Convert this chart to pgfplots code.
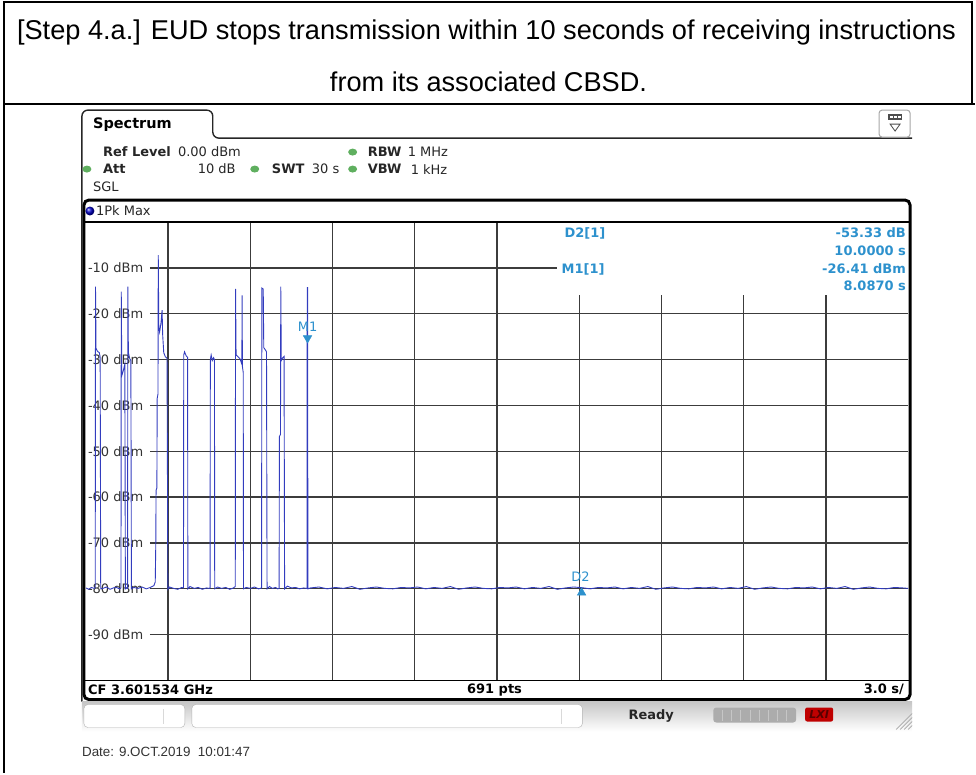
\documentclass[border=0pt]{standalone}
\usepackage{pgfplots}
\pgfplotsset{compat=1.18}
\usepackage{fontspec}
\setmainfont{Liberation Sans}
\newfontfamily\rs{DejaVu Sans}

\definecolor{trace}{RGB}{50,60,190}
\definecolor{mk}{RGB}{45,145,205}
\definecolor{gridc}{RGB}{60,60,60}
\definecolor{led}{RGB}{95,175,95}
\definecolor{lab}{RGB}{50,50,50}

\tikzset{
  rsn/.style={font=\rs\fontsize{13bp}{15bp}\selectfont, inner sep=0pt, text=black!85},
  rsb/.style={font=\rs\bfseries\fontsize{13bp}{15bp}\selectfont, inner sep=0pt, text=black!85},
  mkt/.style={font=\rs\bfseries\fontsize{13bp}{15bp}\selectfont, inner sep=0pt, text=mk},
}

\begin{document}
\begin{tikzpicture}
\begin{scope}[x=1bp,y=1bp]
\path (0,0) rectangle (976,774);
% table round the screenshot
\draw[line width=2.5bp] (3,772) -- (974,772);
\draw[line width=2.5bp] (4,773) -- (4,0);
\draw[line width=2.5bp] (973,773) -- (973,670);
\draw[line width=2bp] (4,670) -- (976,670);
\node[anchor=base, inner sep=0pt, font=\fontsize{27.2bp}{30bp}\selectfont] at (487,735)
  {[Step 4.a.] EUD stops transmission within 10 seconds of receiving instructions};
\node[anchor=base, inner sep=0pt, font=\fontsize{27.2bp}{30bp}\selectfont] at (489,683)
  {from its associated CBSD.};
\end{scope}

% the trace
\begin{axis}[
  at={(86bp,93bp)}, anchor=south west,
  scale only axis, width=823bp, height=459bp,
  xmin=0, xmax=30, ymin=-100, ymax=0,
  hide axis,
]
\pgfplotsinvokeforeach{3,6,9,12,15}{
  \draw[gridc, line width=1.3bp] (axis cs:#1,-100) -- (axis cs:#1,0);
}
\pgfplotsinvokeforeach{18,21,24,27}{
  \draw[gridc, line width=1.3bp] (axis cs:#1,-100) -- (axis cs:#1,-15.9);
}
\pgfplotsinvokeforeach{20,30,40,50,60,70,80,90}{
  \draw[gridc, line width=1.3bp] (axis cs:2.33,-#1) -- (axis cs:30,-#1);
  \node[rsn, text=lab, anchor=west] at (axis cs:0.07,-#1) {-#1 dBm};
}
\draw[gridc, line width=1.3bp] (axis cs:2.33,-10) -- (axis cs:17.2,-10);
\node[rsn, text=lab, anchor=west] at (axis cs:0.07,-10) {-10 dBm};

\addplot[trace, line width=0.9bp, mark=none] coordinates {
(0,-79.8) (0.1,-80.1) (0.2,-79.7) (0.3,-79.9)
(0.34,-79.6) (0.35,-14.1) (0.37,-27.6) (0.42,-28.2) (0.49,-28.5) (0.52,-29.5) (0.54,-80.0)
(0.62,-79.9) (0.75,-79.6) (0.88,-80.1) (1.0,-79.8) (1.12,-79.7) (1.22,-80.0)
(1.28,-79.8) (1.29,-15.2) (1.31,-33.5) (1.36,-32.5) (1.42,-31) (1.44,-80)
(1.48,-79.8) (1.52,-79.9) (1.53,-14.1) (1.55,-28.5) (1.6,-29.8) (1.64,-30.2) (1.66,-80.0)
(1.75,-79.7) (1.9,-79.9) (2.05,-79.6) (2.2,-80.0) (2.35,-79.7) (2.48,-79.3)
(2.53,-78.5) (2.55,-70) (2.56,-58.5) (2.59,-58) (2.60,-38.5) (2.63,-37.5) (2.64,-7.2)
(2.66,-22.8) (2.69,-24) (2.74,-22) (2.78,-19.2) (2.80,-24.5) (2.84,-28.5) (2.90,-29.4) (2.96,-29.7) (2.99,-80.1)
(3.05,-79.6) (3.2,-79.9) (3.35,-80.1) (3.5,-79.7)
(3.56,-79.8) (3.57,-29.0) (3.60,-28.3) (3.66,-29.2) (3.71,-29.5) (3.72,-80.0)
(3.8,-79.5) (3.95,-79.9) (4.1,-79.7) (4.25,-80.1) (4.4,-79.8) (4.5,-79.9)
(4.53,-79.8) (4.54,-30.0) (4.57,-29.0) (4.61,-30.2) (4.66,-29.6) (4.69,-30) (4.70,-80.0)
(4.8,-79.6) (4.95,-79.9) (5.1,-79.7) (5.25,-80.1) (5.38,-79.8)
(5.45,-79.5) (5.46,-14.6) (5.48,-29.0) (5.55,-29.4) (5.62,-29.8) (5.66,-30.5) (5.69,-31)
(5.70,-16) (5.71,-31.5) (5.74,-32.8) (5.75,-80.0)
(5.85,-79.7) (6.0,-79.9) (6.15,-79.6) (6.3,-80.0)
(6.41,-79.8) (6.42,-14.4) (6.47,-14.6) (6.49,-27.4) (6.55,-27.9) (6.59,-28.3) (6.61,-80.0)
(6.7,-79.5) (6.8,-79.9) (6.92,-79.7) (7.0,-80.0)
(7.05,-79.9) (7.06,-46.8) (7.10,-46.3) (7.11,-14.1) (7.13,-30.2) (7.18,-29.6) (7.23,-29.3) (7.25,-80.0)
(7.35,-79.4) (7.5,-79.8) (7.65,-79.7) (7.8,-80.0) (7.95,-79.8) (8.05,-79.9)
(8.07,-79.9) (8.075,-14.3) (8.09,-14.3) (8.10,-80.0)
(8.2,-79.8) (8.5,-79.6) (8.8,-80.0) (9.1,-79.7) (9.4,-79.9) (9.7,-79.5) (10.0,-80.1) (10.3,-79.8)
(10.6,-79.6) (10.9,-79.9) (11.2,-80.0) (11.5,-79.7) (11.8,-79.8) (12.1,-79.6) (12.4,-80.0) (12.7,-79.7)
(13.0,-79.9) (13.3,-79.5) (13.6,-80.1) (13.9,-79.8) (14.2,-79.6) (14.5,-79.9) (14.8,-80.0) (15.1,-79.7)
(15.4,-79.8) (15.7,-79.6) (16.0,-80.0) (16.3,-79.7) (16.6,-79.9) (16.9,-79.5) (17.2,-80.1) (17.5,-79.8)
(17.8,-79.6) (18.087,-79.74) (18.4,-80.0) (18.7,-79.7) (19.0,-79.8) (19.3,-79.6) (19.6,-80.0) (19.9,-79.7)
(20.2,-79.9) (20.5,-79.5) (20.8,-80.1) (21.1,-79.8) (21.4,-79.6) (21.7,-79.9) (22.0,-80.0) (22.3,-79.7)
(22.6,-79.8) (22.9,-79.6) (23.2,-80.0) (23.5,-79.7) (23.8,-79.9) (24.1,-79.5) (24.4,-80.1) (24.7,-79.8)
(25.0,-79.6) (25.3,-79.9) (25.6,-80.0) (25.9,-79.7) (26.2,-79.8) (26.5,-79.6) (26.8,-80.0) (27.1,-79.7)
(27.4,-79.9) (27.7,-79.5) (28.0,-80.1) (28.3,-79.8) (28.6,-79.6) (28.9,-79.9) (29.2,-80.0) (29.5,-79.7)
(29.8,-79.8) (30.0,-79.9)
};

% markers M1 and D2
\addplot[only marks, mark=triangle*, mark size=5,
  mark options={yshift=5bp, rotate=180, fill=mk, draw=mk}] coordinates {(8.087,-26.41)};
\addplot[only marks, mark=triangle*, mark size=5,
  mark options={yshift=-5bp, fill=mk, draw=mk}] coordinates {(18.087,-79.74)};
\node[rsn, text=mk] at (axis cs:8.087,-22.9) {M1};
\node[rsn, text=mk] at (axis cs:18.05,-77.4) {D2};
\end{axis}

\begin{scope}[x=1bp,y=1bp]
% screen frame
\draw[line width=3bp, rounded corners=5bp] (84,74) rectangle (911,574);
\draw[line width=1.5bp] (84,552) -- (911,552);
\draw[line width=1.5bp] (84,93) -- (911,93);
\draw[line width=1.4bp, black!85, rounded corners=6bp] (82,72) -- (82,664) -- (213,664) -- (213,636) -- (913,636);

% top-right button
\draw[gray!70, rounded corners=3bp, line width=1bp, fill=white] (880,637) rectangle (911,664);
\fill[black!70] (889,654) rectangle (903,660);
\fill[white] (891,656) rectangle (894,658);
\fill[white] (895,656) rectangle (898,658);
\fill[white] (899,656) rectangle (902,658);
\draw[black!70, line width=0.8bp] (891,650) -- (901,650) -- (896,643) -- cycle;

% setting rows
\node[font=\rs\bfseries\fontsize{14.5bp}{16bp}\selectfont, inner sep=0pt, anchor=west] at (93,649) {Spectrum};
\fill[led] (353,622) ellipse (4.5bp and 3.5bp);
\fill[led] (87,605) ellipse (4.5bp and 3.5bp);
\fill[led] (255,605) ellipse (4.5bp and 3.5bp);
\fill[led] (353,605) ellipse (4.5bp and 3.5bp);
\node[rsb, anchor=west] at (103,622) {Ref Level};
\node[rsn, anchor=west] at (178,622) {0.00 dBm};
\node[rsb, anchor=west] at (368,622) {RBW};
\node[rsn, anchor=west] at (408,622) {1 MHz};
\node[rsb, anchor=west] at (103,605) {Att};
\node[rsn, anchor=east] at (236,605) {10 dB};
\node[rsb, anchor=west] at (272,605) {SWT};
\node[rsn, anchor=west] at (312,605) {30 s};
\node[rsb, anchor=west] at (368,605) {VBW};
\node[rsn, anchor=west] at (411,605) {1 kHz};
\node[rsn, anchor=west] at (93,587) {SGL};
\shade[ball color=blue!80!black] (90,563) circle (4.5bp);
\node[rsn, anchor=west] at (96,563) {1Pk Max};

% marker table
\node[mkt, anchor=west] at (565,541) {D2[1]};
\node[mkt, anchor=west] at (562,505) {M1[1]};
\node[mkt, anchor=east] at (907,541) {-53.33 dB};
\node[mkt, anchor=east] at (907,523) {10.0000 s};
\node[mkt, anchor=east] at (907,505) {-26.41 dBm};
\node[mkt, anchor=east] at (907,488) {8.0870 s};

% status strip
\node[rsb, text=black, anchor=west] at (88,84) {CF 3.601534 GHz};
\node[rsb, text=black] at (495,84) {691 pts};
\node[rsb, text=black, anchor=east] at (905,84) {3.0 s/};

% bottom bar
\shade[top color=gray!45, bottom color=white] (82,42) rectangle (913,72);
\draw[gray!60, fill=white, rounded corners=4bp] (84,46) rectangle (185,69);
\draw[gray!30] (163,50) -- (163,65);
\draw[gray!60, fill=white, rounded corners=4bp] (192,46) rectangle (583,69);
\draw[gray!30] (562,50) -- (562,65);
\node[rsb, anchor=west] at (629,58) {Ready};
\fill[gray!65, rounded corners=3bp] (714,51) rectangle (797,66);
\foreach \i in {1,...,8} \draw[gray!45, line width=1bp] (714+\i*9.2,53) -- (714+\i*9.2,64);
\fill[red!75!black, rounded corners=2bp] (806,52) rectangle (834,66);
\node[font=\rs\bfseries\itshape\fontsize{11bp}{12bp}\selectfont, text=red!35!black, inner sep=0pt] at (820,59) {LXI};
\foreach \d in {0,4,8,12} \draw[gray!70, line width=0.7bp] (897+\d,44) -- (913,60-\d);

\node[anchor=base west, inner sep=0pt, text=black!80, font=\fontsize{13.4bp}{15bp}\selectfont] at (82,17)
  {Date: 9.OCT.2019\ \ 10:01:47};
\end{scope}
\end{tikzpicture}
\end{document}
